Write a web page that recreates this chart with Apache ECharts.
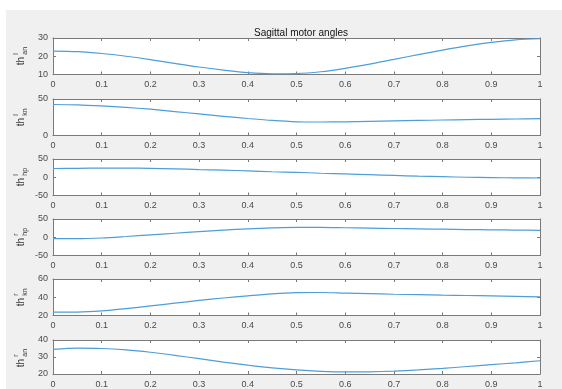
<!DOCTYPE html>
<html><head><meta charset="utf-8">
<script src="https://cdn.jsdelivr.net/npm/echarts@6/dist/echarts.min.js"></script>
<style>
html,body{margin:0;padding:0;background:#fff;}
#bg{position:absolute;left:6px;top:10px;width:556px;height:379px;background:#f0f0f0;}
#c{position:absolute;left:0;top:0;width:562px;height:389px;}
</style></head>
<body><div id="bg"></div><div id="c"></div>
<script>
const titleText = 'Sagittal motor angles';
const xs = [0,0.05,0.1,0.15,0.2,0.25,0.3,0.35,0.4,0.45,0.5,0.55,0.6,0.65,0.7,0.75,0.8,0.85,0.9,0.95,1];
const thAnL = [22.8,22.5,21.5,20,18.2,16.1,14.1,12.4,11,10.4,10.5,11.5,13.4,15.7,18.3,20.9,23.4,25.7,27.6,29,29.6];
const thKnL = [42.5,42,40.5,38.5,36,32.8,29.5,26.3,23.3,20.6,18.8,18.5,18.8,19.4,20,20.6,21.2,21.7,22.2,22.6,23];
const thHpL = [24,24.5,25,25,24.5,23,21,19.5,17.5,15,13.5,11,9,7,5,3,1.5,0,-1,-1.7,-2];
const thHpR = [-4,-4,-2,2,6.5,11,15.5,19.5,23,25.5,27,27,26,25,24,23,22,21,20.3,19.6,19];
const thKnR = [23.6,23.7,25,27.5,30.5,33.5,36.5,39.2,41.6,43.7,45,45.2,44.6,44,43.3,42.8,42.3,41.9,41.5,41,40.5];
const thAnR = [34.5,35.2,35,34.2,32.8,31,29,27,25.2,23.6,22.4,21.6,21.2,21.3,21.7,22.4,23.3,24.4,25.5,26.6,27.8];
const seriesList = [thAnL, thKnL, thHpL, thHpR, thKnR, thAnR];
const supLabels = ['l','l','l','r','r','r'];
const subLabels = ['an','kn','hp','hp','kn','an'];
const yMins = [10,0,-50,-50,20,20];
const yMaxs = [30,50,50,50,60,40];
const yIntervals = [10,50,50,50,20,10];

const tops = [38,99,159,219,279,340];
const H = 36.5, L = 53, R = 22;
const boxColor = '#7a7a7a', labColor = '#4a4a4a', lineColor = '#4d9ed9';
const font = 'Liberation Sans, Arial, sans-serif';

const grid = [], xAxis = [], yAxis = [], series = [], graphic = [];
seriesList.forEach((vals, i) => {
  grid.push({left:L, right:R, top:tops[i], height:H, show:true, backgroundColor:'#fff', borderWidth:0});
  const tick = {show:true, inside:true, length:3, lineStyle:{color:boxColor}};
  const line = {show:true, onZero:false, lineStyle:{color:boxColor, width:1}};
  xAxis.push({type:'value', gridIndex:i, min:0, max:1, interval:0.1, position:'bottom',
    axisLine:line, axisTick:tick, splitLine:{show:false},
    axisLabel:{color:labColor, fontSize:9, fontFamily:font, margin:6,
      formatter:v => String(+v.toFixed(1))}});
  xAxis.push({type:'value', gridIndex:i, min:0, max:1, interval:0.1, position:'top',
    axisLine:line, axisTick:tick, splitLine:{show:false}, axisLabel:{show:false}});
  yAxis.push({type:'value', gridIndex:i, min:yMins[i], max:yMaxs[i], interval:yIntervals[i], position:'left',
    axisLine:line, axisTick:tick, splitLine:{show:false},
    axisLabel:{color:labColor, fontSize:9, fontFamily:font, margin:5}});
  yAxis.push({type:'value', gridIndex:i, min:yMins[i], max:yMaxs[i], interval:yIntervals[i], position:'right',
    axisLine:line, axisTick:tick, splitLine:{show:false}, axisLabel:{show:false}});
  series.push({type:'line', xAxisIndex:2*i, yAxisIndex:2*i, showSymbol:false, smooth:0.3,
    data: xs.map((x,k)=>[x, vals[k]]),
    lineStyle:{color:lineColor, width:1.2}, itemStyle:{color:lineColor}});
  const cy = tops[i] + H/2;
  graphic.push({type:'group', x:21, y:cy+9, rotation:Math.PI/2, children:[
    {type:'text', x:0, y:0, style:{text:'th', fill:'#333', font:'10px '+font, textAlign:'left', textVerticalAlign:'middle'}},
    {type:'text', x:10.5, y:-5, style:{text:supLabels[i], fill:'#333', font:'7px '+font, textAlign:'left', textVerticalAlign:'middle'}},
    {type:'text', x:10.5, y:4, style:{text:subLabels[i], fill:'#333', font:'7px '+font, textAlign:'left', textVerticalAlign:'middle'}}
  ]});
});

const chart = echarts.init(document.getElementById('c'), null, {renderer:'canvas'});
chart.setOption({
  backgroundColor:'transparent',
  animation:false,
  title:{text:titleText, left:296, top:23, textAlign:'center',
    textStyle:{fontSize:10, fontWeight:'normal', color:'#111', fontFamily:font}},
  grid, xAxis, yAxis, series, graphic
});
</script></body></html>
